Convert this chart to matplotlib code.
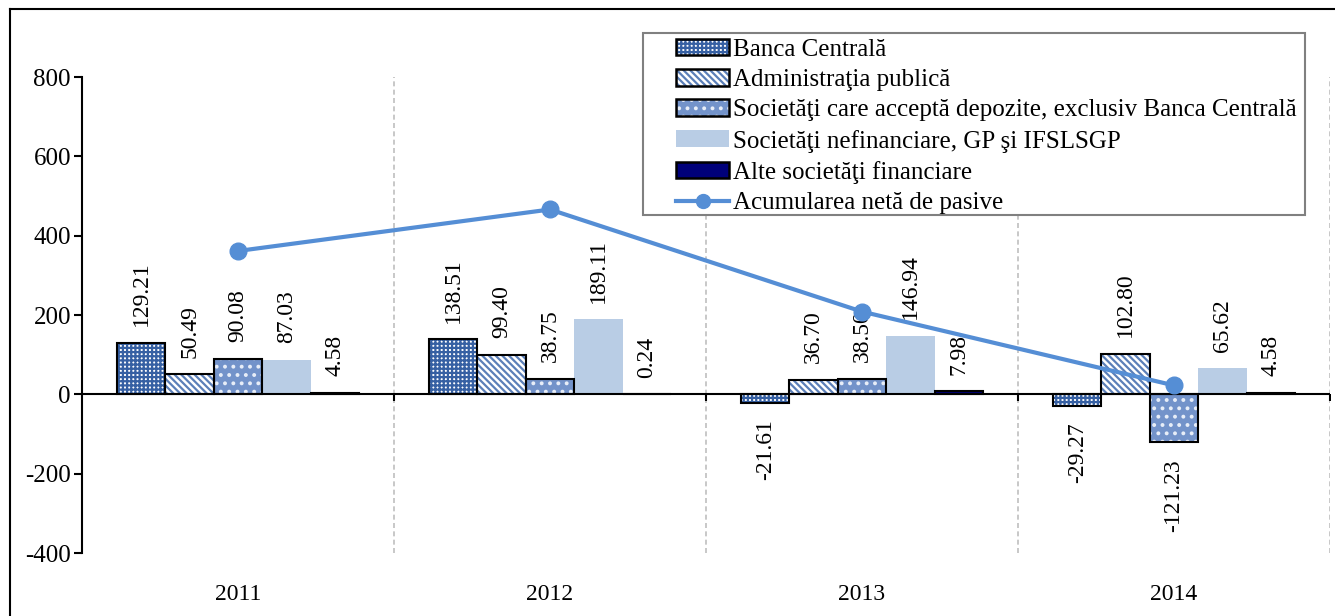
import numpy as np
import matplotlib
matplotlib.use("Agg")
import matplotlib.pyplot as plt
from matplotlib.lines import Line2D
from matplotlib.patches import Patch, Rectangle

plt.rcParams.update({
    "font.family": ["Liberation Serif", "DejaVu Serif"],
    "font.size": 17,
    "hatch.linewidth": 1.6,
    "axes.unicode_minus": False,
})

years = ["2011", "2012", "2013", "2014"]
series_names = [
    "Banca Centrală",
    "Administraţia publică",
    "Societăţi care acceptă depozite, exclusiv Banca Centrală",
    "Societăţi nefinanciare, GP şi IFSLSGP",
    "Alte societăţi financiare",
]
banca_centrala = [129.21, 138.51, -21.61, -29.27]
administratia = [50.49, 99.40, 36.70, 102.80]
societati_depozite = [90.08, 38.75, 38.50, -121.23]
societati_nefin = [87.03, 189.11, 146.94, 65.62]
alte_financiare = [4.58, 0.24, 7.98, 4.58]
acumulare_neta = [361.39, 466.01, 208.51, 22.50]
line_name = "Acumularea netă de pasive"

# per series: face, hatch, hatch colour, outline
STYLES = [
    dict(face="white", hatch="++++", hc="#3660a3", edge="black"),
    dict(face="white", hatch="\\\\\\\\\\", hc="#5b7fb8", edge="black"),
    dict(face="#7393ca", hatch="..", hc="#e8eef8", edge="black"),
    dict(face="#b9cde5", hatch=None, hc=None, edge=None),
    dict(face="#00007a", hatch=None, hc=None, edge="black"),
]
LINE_COLOR = "#558ed5"
FS = 17
FS_BIG = 18

fig = plt.figure(figsize=(13.35, 6.16), dpi=100)
ax = fig.add_axes([82 / 1335, 63 / 616, 1248 / 1335, 476 / 616])

x = np.arange(len(years))
w = 0.155
data = [banca_centrala, administratia, societati_depozite, societati_nefin, alte_financiare]
for i, (vals, st) in enumerate(zip(data, STYLES)):
    xs = x + (i - 2) * w
    if st["hatch"]:
        ax.bar(xs, vals, w, color=st["face"], hatch=st["hatch"], edgecolor=st["hc"], lw=0, zorder=2)
    else:
        ax.bar(xs, vals, w, color=st["face"], lw=0, zorder=2)
    if st["edge"]:
        ax.bar(xs, vals, w, fill=False, edgecolor=st["edge"], lw=1.5, zorder=3)
    for xi, v in zip(xs, vals):
        ax.annotate(f"{v:.2f}", (xi, v), textcoords="offset points",
                    xytext=(0, 12 if v >= 0 else -12), rotation=90, ha="center",
                    va="bottom" if v >= 0 else "top", fontsize=FS, zorder=4)

ax.plot(x, acumulare_neta, "-o", color=LINE_COLOR, lw=3, ms=12, zorder=5)

# x axis line at zero with small ticks between categories
ax.axhline(0, color="black", lw=1.5, zorder=3)
ax.plot(x + 0.5, np.zeros(len(x)), ls="none", marker=3, ms=5, mew=1.5, color="black", zorder=3)
for xv in x + 0.5:
    ax.axvline(xv, color="#bfbfbf", ls=(0, (3, 2)), lw=1.2, zorder=1)

ax.set_xlim(-0.5, 3.5)
ax.set_ylim(-400, 800)
ax.set_yticks(range(-400, 801, 200))
ax.set_xticks(x)
ax.set_xticklabels(years)
ax.tick_params(axis="x", length=0, pad=22, labelsize=FS)
ax.tick_params(axis="y", length=6, width=1.5, direction="out", labelsize=FS_BIG, pad=2)
for s in ("top", "right", "bottom"):
    ax.spines[s].set_visible(False)
ax.spines["left"].set_linewidth(1.5)

handles = []
for name, st in zip(series_names, STYLES):
    if st["hatch"]:
        h = (Patch(facecolor=st["face"], hatch=st["hatch"], edgecolor=st["hc"], lw=0),
             Patch(fill=False, edgecolor=st["edge"], lw=1.8))
    else:
        h = Patch(facecolor=st["face"], edgecolor=st["edge"] or st["face"], lw=1.8 if st["edge"] else 0)
    handles.append(h)
handles.append(Line2D([], [], color=LINE_COLOR, lw=3, marker="o", ms=10))
labels = series_names + [line_name]

# legend frame drawn separately (handles are inset from the left edge)
fig.add_artist(Rectangle((643 / 1335, 1 - 215 / 616), 662 / 1335, 182 / 616, transform=fig.transFigure,
                         facecolor="white", edgecolor="#808080", lw=1.5, zorder=6))
leg = fig.legend(handles, labels, loc="upper left", bbox_to_anchor=(674 / 1335, 1 - 36 / 616),
                 fontsize=FS_BIG, frameon=False,
                 handlelength=2.1, handleheight=0.65, labelspacing=0.33, borderpad=0.1,
                 handletextpad=0.15, borderaxespad=0)
leg.set_zorder(7)

# outer frame (left and top edges visible)
fig.add_artist(Line2D([10 / 1335, 10 / 1335], [0, 1 - 9 / 616], transform=fig.transFigure, color="black", lw=1.5))
fig.add_artist(Line2D([10 / 1335, 1], [1 - 9 / 616, 1 - 9 / 616], transform=fig.transFigure, color="black", lw=1.5))

fig.savefig("out.png", dpi=100)
